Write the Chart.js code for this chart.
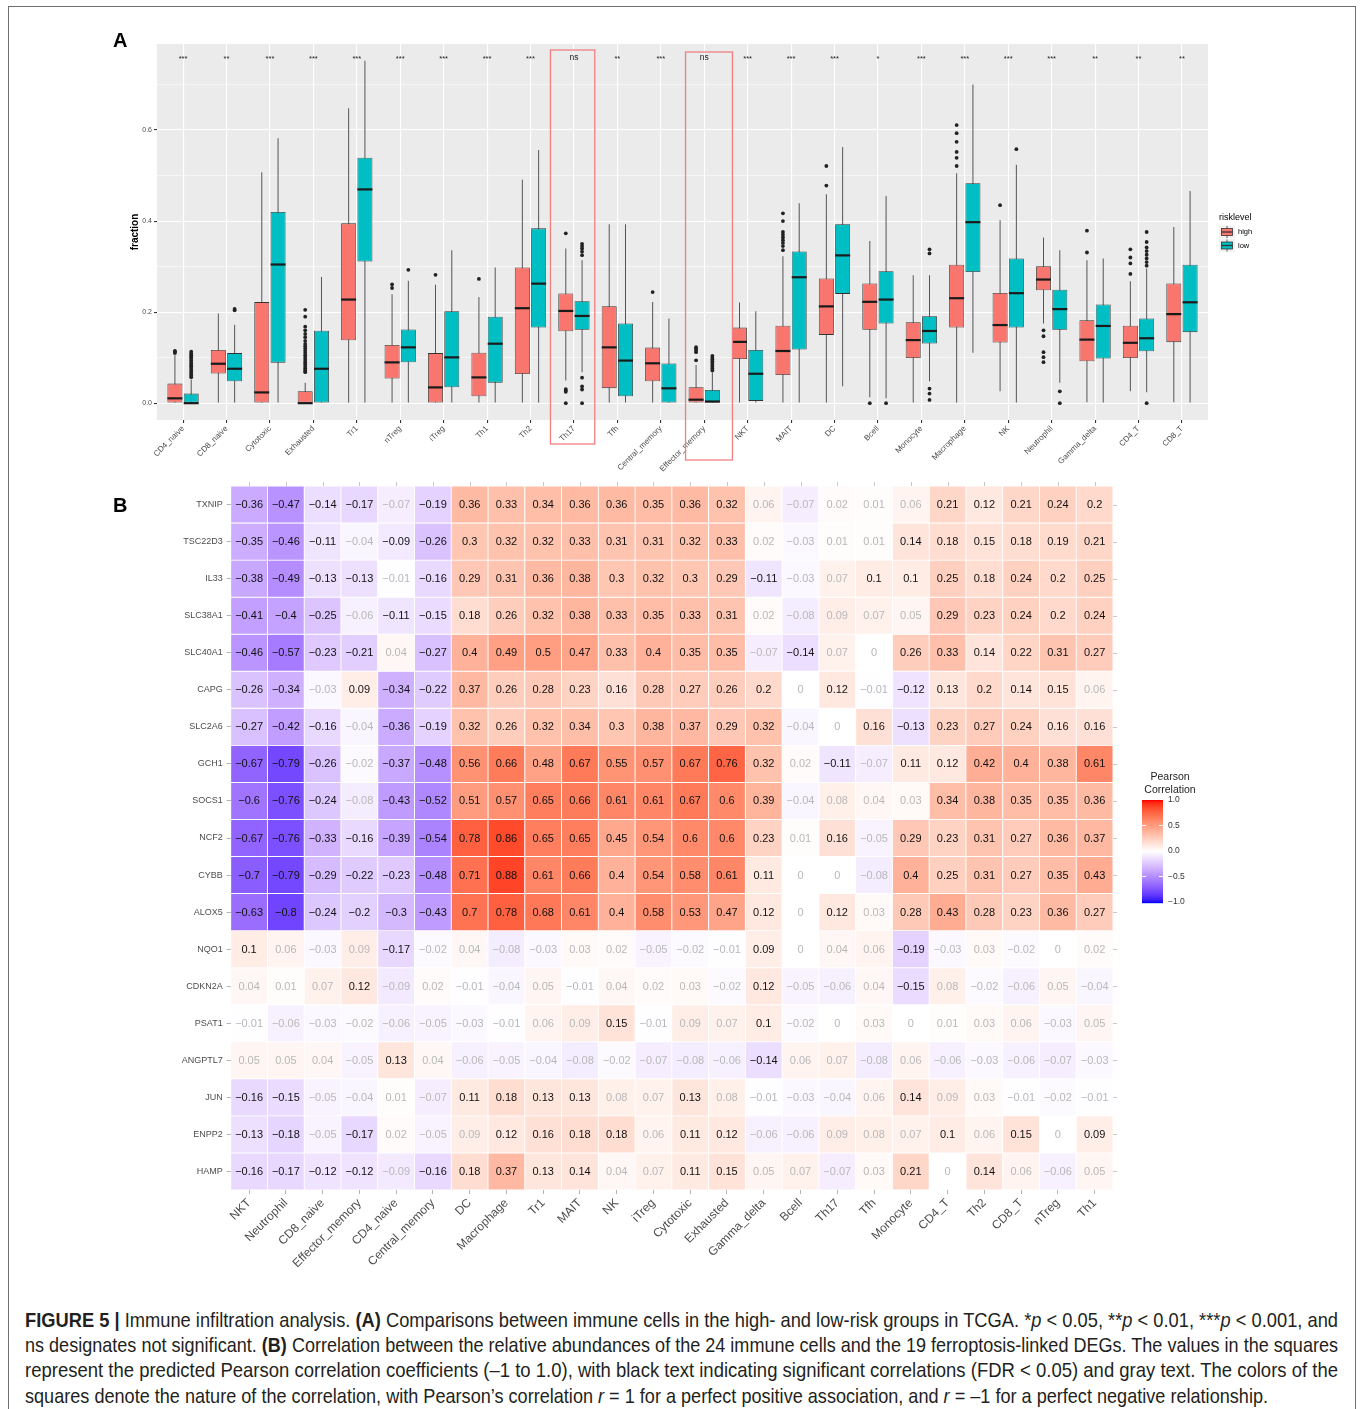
<!DOCTYPE html>
<html><head><meta charset="utf-8">
<script src="https://cdn.jsdelivr.net/npm/chart.js@4.4.1/dist/chart.umd.min.js"></script>
<style>
html,body{margin:0;padding:0;background:#fff}
body{width:1360px;height:1409px;position:relative;overflow:hidden;font-family:"Liberation Sans",Arial,sans-serif}
#frame{position:absolute;left:8px;top:6px;width:1348px;height:1450px;border:1.5px solid #707070;box-sizing:border-box}
canvas{position:absolute;left:0}
#ca{top:0}
#cb{top:470px}
.pl{position:absolute;font-weight:bold;font-size:20px;color:#000;font-family:"Liberation Sans",Arial,sans-serif}
.cl{position:absolute;left:25px;white-space:nowrap;font-family:"Liberation Sans Narrow","Liberation Sans",Arial,sans-serif;font-size:21px;line-height:25px;color:#231f20;transform-origin:0 0}
</style></head><body>
<div id="frame"></div>
<canvas id="ca" width="1360" height="480"></canvas>
<canvas id="cb" width="1360" height="800"></canvas>
<div class="pl" style="left:113px;top:29px">A</div>
<div class="pl" style="left:113px;top:494px">B</div>
<div class="cl" data-w="1313" style="top:1307px"><b>FIGURE 5 |</b> Immune infiltration analysis. <b>(A)</b> Comparisons between immune cells in the high- and low-risk groups in TCGA. *<i>p</i> &lt; 0.05, **<i>p</i> &lt; 0.01, ***<i>p</i> &lt; 0.001, and</div>
<div class="cl" data-w="1313" style="top:1332px">ns designates not significant. <b>(B)</b> Correlation between the relative abundances of the 24 immune cells and the 19 ferroptosis-linked DEGs. The values in the squares</div>
<div class="cl" data-w="1313" style="top:1357px">represent the predicted Pearson correlation coefficients (–1 to 1.0), with black text indicating significant correlations (FDR &lt; 0.05) and gray text. The colors of the</div>
<div class="cl" data-w="1243" style="top:1383px">squares denote the nature of the correlation, with Pearson’s correlation <i>r</i> = 1 for a perfect positive association, and <i>r</i> = –1 for a perfect negative relationship.</div>
<script>
Chart.defaults.font.family = '"Liberation Sans", Arial, sans-serif';
Chart.defaults.animation = false;

/* ---------------- Panel A data ---------------- */
const cells = ['CD4_naive','CD8_naive','Cytotoxic','Exhausted','Tr1','nTreg','iTreg','Th1','Th2','Th17','Tfh','Central_memory','Effector_memory','NKT','MAIT','DC','Bcell','Monocyte','Macrophage','NK','Neutrophil','Gamma_delta','CD4_T','CD8_T'];
const sigLabels = ['***','**','***','***','***','***','***','***','***','ns','**','***','ns','***','***','***','*','***','***','***','***','**','**','**'];
const yTicksA = [0,0.1,0.2,0.3,0.4,0.5,0.6,0.7];

const highLo  = [0,0,0,0,0,0,0,0,0,0.05,0,0,0,0,0,0,0.013,0,0,0.026,0.175,0.002,0.026,0.002];
const highQ1  = [0,0.065,0,0,0.138,0.054,0,0.015,0.064,0.158,0.033,0.048,0,0.097,0.062,0.15,0.161,0.099,0.166,0.133,0.248,0.092,0.099,0.134];
const highMed = [0.013,0.089,0.026,0,0.23,0.092,0.037,0.059,0.211,0.205,0.125,0.09,0.01,0.137,0.117,0.215,0.225,0.141,0.233,0.174,0.274,0.142,0.135,0.198];
const highQ3  = [0.043,0.117,0.222,0.026,0.395,0.128,0.11,0.111,0.298,0.241,0.213,0.122,0.035,0.166,0.17,0.274,0.263,0.178,0.304,0.242,0.301,0.182,0.17,0.263];
const highHi  = [0.105,0.197,0.507,0.045,0.648,0.239,0.26,0.233,0.491,0.34,0.393,0.222,0.084,0.221,0.323,0.459,0.356,0.281,0.505,0.402,0.364,0.314,0.268,0.387];
const highOut = [
  [0.11,0.113,0.115],[],[],
  [0.068,0.072,0.076,0.08,0.085,0.09,0.095,0.1,0.105,0.11,0.115,0.12,0.125,0.13,0.137,0.145,0.152,0.16,0.168,0.19,0.205],
  [],[0.253,0.261],[0.282],[0.273],[],
  [0.373,0.025,0.028,0.031,0],[],[0.244],[0.094,0.112,0.116,0.12,0.123],[],
  [0.336,0.345,0.352,0.358,0.364,0.37,0.376,0.4,0.417],[0.478,0.521],[0],[],
  [0.521,0.539,0.552,0.574,0.593,0.611],[0.435],[0.16,0.147,0.112,0.101,0.09],[0.379,0.331],[0.284,0.307,0.32,0.338],[]
];

const lowLo  = [0,0,0,0,0,0,0,0,0,0.068,0,0,0,0,0,0.037,0.011,0.048,0.111,0,0.045,0,0.024,0];
const lowQ1  = [0,0.048,0.089,0,0.311,0.09,0.035,0.045,0.166,0.161,0.015,0,0,0.005,0.118,0.24,0.175,0.131,0.288,0.166,0.161,0.098,0.114,0.156];
const lowMed = [0,0.078,0.307,0.078,0.472,0.125,0.103,0.133,0.265,0.194,0.096,0.035,0.006,0.067,0.279,0.327,0.23,0.161,0.4,0.244,0.209,0.172,0.145,0.224];
const lowQ3  = [0.021,0.11,0.42,0.159,0.539,0.162,0.202,0.19,0.384,0.224,0.175,0.087,0.029,0.117,0.333,0.393,0.29,0.191,0.483,0.318,0.249,0.217,0.186,0.304];
const lowHi  = [0.052,0.172,0.582,0.277,0.752,0.269,0.336,0.298,0.556,0.314,0.393,0.186,0.068,0.202,0.439,0.563,0.455,0.281,0.7,0.524,0.336,0.318,0.296,0.466];
const lowOut = [
  [0.057,0.061,0.065,0.069,0.073,0.077,0.081,0.085,0.089,0.093,0.097,0.101,0.105,0.109,0.113],
  [0.204,0.207],[],[],[],[0.293],[],[],[],
  [0.325,0.333,0.34,0.345,0.35,0.056,0.037,0.03,0],[],[],
  [0.072,0.076,0.08,0.084,0.088,0.092,0.096,0.1,0.104],[],[],[],[0],
  [0.329,0.338,0.032,0.021,0.007],[],[0.558],[0.026,0],[],
  [0.302,0.31,0.318,0.326,0.334,0.342,0.354,0.376,0],[]
];

const HIGH_COLOR = '#F8766D', LOW_COLOR = '#00BFC4';
const DODGE = 0.1875;   // ggplot dodge: 0.75 slot / 2 groups / 2
const SIG_Y = 0.76;
const highlights = [{cell:'Th17', l:-0.54, r:0.48, top:50, bottom:444},{cell:'Effector_memory', l:-0.43, r:0.65, top:52, bottom:460}];

/* ---------------- Panel B data ---------------- */
const immune = ['NKT','Neutrophil','CD8_naive','Effector_memory','CD4_naive','Central_memory','DC','Macrophage','Tr1','MAIT','NK','iTreg','Cytotoxic','Exhausted','Gamma_delta','Bcell','Th17','Tfh','Monocyte','CD4_T','Th2','CD8_T','nTreg','Th1'];
const genes = ['TXNIP','TSC22D3','IL33','SLC38A1','SLC40A1','CAPG','SLC2A6','GCH1','SOCS1','NCF2','CYBB','ALOX5','NQO1','CDKN2A','PSAT1','ANGPTL7','JUN','ENPP2','HAMP'];
const rTXNIP   = [-0.36,-0.47,-0.14,-0.17,-0.07,-0.19,0.36,0.33,0.34,0.36,0.36,0.35,0.36,0.32,0.06,-0.07,0.02,0.01,0.06,0.21,0.12,0.21,0.24,0.2];
const rTSC22D3 = [-0.35,-0.46,-0.11,-0.04,-0.09,-0.26,0.3,0.32,0.32,0.33,0.31,0.31,0.32,0.33,0.02,-0.03,0.01,0.01,0.14,0.18,0.15,0.18,0.19,0.21];
const rIL33    = [-0.38,-0.49,-0.13,-0.13,-0.01,-0.16,0.29,0.31,0.36,0.38,0.3,0.32,0.3,0.29,-0.11,-0.03,0.07,0.1,0.1,0.25,0.18,0.24,0.2,0.25];
const rSLC38A1 = [-0.41,-0.4,-0.25,-0.06,-0.11,-0.15,0.18,0.26,0.32,0.38,0.33,0.35,0.33,0.31,0.02,-0.08,0.09,0.07,0.05,0.29,0.23,0.24,0.2,0.24];
const rSLC40A1 = [-0.46,-0.57,-0.23,-0.21,0.04,-0.27,0.4,0.49,0.5,0.47,0.33,0.4,0.35,0.35,-0.07,-0.14,0.07,0,0.26,0.33,0.14,0.22,0.31,0.27];
const rCAPG    = [-0.26,-0.34,-0.03,0.09,-0.34,-0.22,0.37,0.26,0.28,0.23,0.16,0.28,0.27,0.26,0.2,0,0.12,-0.01,-0.12,0.13,0.2,0.14,0.15,0.06];
const rSLC2A6  = [-0.27,-0.42,-0.16,-0.04,-0.36,-0.19,0.32,0.26,0.32,0.34,0.3,0.38,0.37,0.29,0.32,-0.04,0,0.16,-0.13,0.23,0.27,0.24,0.16,0.16];
const rGCH1    = [-0.67,-0.79,-0.26,-0.02,-0.37,-0.48,0.56,0.66,0.48,0.67,0.55,0.57,0.67,0.76,0.32,0.02,-0.11,-0.07,0.11,0.12,0.42,0.4,0.38,0.61];
const rSOCS1   = [-0.6,-0.76,-0.24,-0.08,-0.43,-0.52,0.51,0.57,0.65,0.66,0.61,0.61,0.67,0.6,0.39,-0.04,0.08,0.04,0.03,0.34,0.38,0.35,0.35,0.36];
const rNCF2    = [-0.67,-0.76,-0.33,-0.16,-0.39,-0.54,0.78,0.86,0.65,0.65,0.45,0.54,0.6,0.6,0.23,0.01,0.16,-0.05,0.29,0.23,0.31,0.27,0.36,0.37];
const rCYBB    = [-0.7,-0.79,-0.29,-0.22,-0.23,-0.48,0.71,0.88,0.61,0.66,0.4,0.54,0.58,0.61,0.11,0,0,-0.08,0.4,0.25,0.31,0.27,0.35,0.43];
const rALOX5   = [-0.63,-0.8,-0.24,-0.2,-0.3,-0.43,0.7,0.78,0.68,0.61,0.4,0.58,0.53,0.47,0.12,0,0.12,0.03,0.28,0.43,0.28,0.23,0.36,0.27];
const rNQO1    = [0.1,0.06,-0.03,0.09,-0.17,-0.02,0.04,-0.08,-0.03,0.03,0.02,-0.05,-0.02,-0.01,0.09,0,0.04,0.06,-0.19,-0.03,0.03,-0.02,0,0.02];
const rCDKN2A  = [0.04,0.01,0.07,0.12,-0.09,0.02,-0.01,-0.04,0.05,-0.01,0.04,0.02,0.03,-0.02,0.12,-0.05,-0.06,0.04,-0.15,0.08,-0.02,-0.06,0.05,-0.04];
const rPSAT1   = [-0.01,-0.06,-0.03,-0.02,-0.06,-0.05,-0.03,-0.01,0.06,0.09,0.15,-0.01,0.09,0.07,0.1,-0.02,0,0.03,0,0.01,0.03,0.06,-0.03,0.05];
const rANGPTL7 = [0.05,0.05,0.04,-0.05,0.13,0.04,-0.06,-0.05,-0.04,-0.08,-0.02,-0.07,-0.08,-0.06,-0.14,0.06,0.07,-0.08,0.06,-0.06,-0.03,-0.06,-0.07,-0.03];
const rJUN     = [-0.16,-0.15,-0.05,-0.04,0.01,-0.07,0.11,0.18,0.13,0.13,0.08,0.07,0.13,0.08,-0.01,-0.03,-0.04,0.06,0.14,0.09,0.03,-0.01,-0.02,-0.01];
const rENPP2   = [-0.13,-0.18,-0.05,-0.17,0.02,-0.05,0.09,0.12,0.16,0.18,0.18,0.06,0.11,0.12,-0.06,-0.06,0.09,0.08,0.07,0.1,0.06,0.15,0,0.09];
const rHAMP    = [-0.16,-0.17,-0.12,-0.12,-0.09,-0.16,0.18,0.37,0.13,0.14,0.04,0.07,0.11,0.15,0.05,0.07,-0.07,0.03,0.21,0,0.14,0.06,-0.06,0.05];
const corrRows = [rTXNIP,rTSC22D3,rIL33,rSLC38A1,rSLC40A1,rCAPG,rSLC2A6,rGCH1,rSOCS1,rNCF2,rCYBB,rALOX5,rNQO1,rCDKN2A,rPSAT1,rANGPTL7,rJUN,rENPP2,rHAMP];
// 1 = significant (black text), 0 = not significant (gray text)
const sigRows = [
  '111101111111110000011111','111011111111110000111111','111101111111111001111111','111011111111110000011111',
  '111101111111110100111111','110111111111111010111110','111011111111111001111111','111011111111111010111111',
  '111011111111111000011111','111111111111111010111111','111111111111111000111111','111111111111111010111111',
  '100010000000001000100000','000100000000001000100000','000000000010001000000000','000010000000001000000000',
  '110000111100100000100000','110100011110110000010101','111101111100110000101000'
];
const colorbarTicks = [1,0.5,0,-0.5,-1];

/* ---------------- colour (ggplot gradient2 in Lab) ---------------- */
function s2l(c){c/=255;return c<=0.04045?c/12.92:Math.pow((c+0.055)/1.055,2.4);}
function l2s(c){c=c<=0.0031308?12.92*c:1.055*Math.pow(c,1/2.4)-0.055;return Math.round(Math.max(0,Math.min(1,c))*255);}
const Xn=0.95047,Yn=1,Zn=1.08883;
function ff(t){return t>0.008856?Math.cbrt(t):7.787*t+16/116;}
function fi(t){return t>0.206893?t*t*t:(t-16/116)/7.787;}
function rgb2lab(r,g,b){const R=s2l(r),G=s2l(g),B=s2l(b);
  const X=0.4124564*R+0.3575761*G+0.1804375*B,Y=0.2126729*R+0.7151522*G+0.0721750*B,Z=0.0193339*R+0.1191920*G+0.9503041*B;
  const fx=ff(X/Xn),fy=ff(Y/Yn),fz=ff(Z/Zn);return [116*fy-16,500*(fx-fy),200*(fy-fz)];}
function lab2rgb(L,a,b){const fy=(L+16)/116,fx=fy+a/500,fz=fy-b/200;const X=Xn*fi(fx),Y=Yn*fi(fy),Z=Zn*fi(fz);
  return [l2s(3.2404542*X-1.5371385*Y-0.4985314*Z),l2s(-0.9692660*X+1.8760108*Y+0.0415560*Z),l2s(0.0556434*X-0.2040259*Y+1.0572252*Z)];}
const LAB_W=rgb2lab(255,255,255),LAB_B=rgb2lab(0,0,255),LAB_R=rgb2lab(255,0,0);
function corrColor(v){const t=Math.min(1,Math.abs(v));const e=v<0?LAB_B:LAB_R;
  const c=lab2rgb(LAB_W[0]+(e[0]-LAB_W[0])*t,LAB_W[1]+(e[1]-LAB_W[1])*t,LAB_W[2]+(e[2]-LAB_W[2])*t);
  return 'rgb('+c[0]+','+c[1]+','+c[2]+')';}
function fmt(v){return v===0?'0':(v<0?'\u2212':'')+String(Math.abs(v));}

/* ---------------- Panel A chart ---------------- */
const pos = cells.map((_,i)=>i+1);
function boxData(a,b){return pos.map((x,i)=>({x:x,y:[a[i],b[i]]}));}
function outData(out,sign){const pts=[];out.forEach((arr,i)=>arr.forEach(v=>pts.push({x:i+1+sign*DODGE,y:v})));return pts;}
const barCommon = {categoryPercentage:0.75, barPercentage:0.92};

const panelA = {
  id:'panelA',
  beforeDraw(c){const {ctx,chartArea:a}=c;ctx.save();ctx.fillStyle='#EBEBEB';ctx.fillRect(a.left,a.top,a.right-a.left,a.bottom-a.top);ctx.restore();},
  afterDraw(c){
    const {ctx,chartArea:a,scales:{x,y}}=c;
    ctx.save();
    ctx.textAlign='center';ctx.textBaseline='middle';ctx.fillStyle='#222';
    sigLabels.forEach((s,i)=>{
      ctx.font=(s==='ns'?'8.5px':'7.5px')+' "Liberation Sans", Arial';
      ctx.fillText(s,x.getPixelForValue(i+1),y.getPixelForValue(SIG_Y)+(s==='ns'?0:2));
    });
    ctx.strokeStyle='#F08080';ctx.lineWidth=1.3;
    highlights.forEach(h=>{const k=cells.indexOf(h.cell)+1;
      const l=x.getPixelForValue(k+h.l),r=x.getPixelForValue(k+h.r);
      ctx.strokeRect(l,h.top,r-l,h.bottom-h.top);});
    // legend
    ctx.textAlign='left';ctx.fillStyle='#000';ctx.font='9px "Liberation Sans", Arial';
    ctx.fillText('risklevel',1219,218);
    [['high',HIGH_COLOR,232],['low',LOW_COLOR,245.5]].forEach(([lab,col,cy])=>{
      ctx.fillStyle='#F2F2F2';ctx.fillRect(1219,cy-6.5,16,13);
      ctx.strokeStyle='#333';ctx.lineWidth=0.8;
      ctx.beginPath();ctx.moveTo(1227,cy-6);ctx.lineTo(1227,cy-3.5);ctx.moveTo(1227,cy+3.5);ctx.lineTo(1227,cy+6);ctx.stroke();
      ctx.fillStyle=col;ctx.fillRect(1221.5,cy-3.5,11,7);ctx.strokeRect(1221.5,cy-3.5,11,7);
      ctx.lineWidth=1.3;ctx.beginPath();ctx.moveTo(1221.5,cy);ctx.lineTo(1232.5,cy);ctx.stroke();
      ctx.fillStyle='#000';ctx.font='7.5px "Liberation Sans", Arial';ctx.fillText(lab,1238,cy);
    });
    ctx.restore();
  }
};

new Chart(document.getElementById('ca'),{
  type:'bar',
  data:{datasets:[
    Object.assign({type:'scatter',label:'high outliers',order:0,data:outData(highOut,-1),pointRadius:1.9,pointBackgroundColor:'#222',pointBorderWidth:0}),
    Object.assign({type:'scatter',label:'low outliers',order:0,data:outData(lowOut,1),pointRadius:1.9,pointBackgroundColor:'#222',pointBorderWidth:0}),
    Object.assign({label:'high median',stack:'high',order:1,data:boxData(highMed,highMed),backgroundColor:'#1a1a1a',borderWidth:0,minBarLength:2.2},barCommon),
    Object.assign({label:'low median',stack:'low',order:1,data:boxData(lowMed,lowMed),backgroundColor:'#1a1a1a',borderWidth:0,minBarLength:2.2},barCommon),
    Object.assign({label:'high',stack:'high',order:2,data:boxData(highQ1,highQ3),backgroundColor:HIGH_COLOR,borderColor:'#333',borderWidth:0.8,borderSkipped:false},barCommon),
    Object.assign({label:'low',stack:'low',order:2,data:boxData(lowQ1,lowQ3),backgroundColor:LOW_COLOR,borderColor:'#333',borderWidth:0.8,borderSkipped:false},barCommon),
    Object.assign({label:'high whisker',stack:'high',order:3,data:boxData(highLo,highHi),backgroundColor:'#555',borderWidth:0,maxBarThickness:1},barCommon),
    Object.assign({label:'low whisker',stack:'low',order:3,data:boxData(lowLo,lowHi),backgroundColor:'#555',borderWidth:0,maxBarThickness:1},barCommon)
  ]},
  options:{
    responsive:false,animation:false,
    layout:{padding:{left:125,right:152,top:44,bottom:0}},
    plugins:{legend:{display:false},tooltip:{enabled:false}},
    scales:{
      x:{type:'linear',min:0.4,max:24.6,offset:false,
        afterBuildTicks:s=>{s.ticks=pos.map(v=>({value:v}));},
        afterFit:s=>{s.height=60;},
        ticks:{autoSkip:false,minRotation:45,maxRotation:45,font:{size:8},color:'#4d4d4d',padding:1,callback:v=>cells[Math.round(v)-1]},
        grid:{color:'#ffffff',lineWidth:1.1,tickColor:'#333',tickLength:3,offset:false},
        border:{display:false}},
      y:{type:'linear',min:-0.037,max:0.789,stacked:false,
        afterBuildTicks:s=>{s.ticks=yTicksA.map(v=>({value:v}));},
        afterFit:s=>{s.width=32;},
        ticks:{font:{size:7},color:'#4d4d4d',padding:2,callback:v=>(Math.round(v*10)%2===0?v.toFixed(1):'')},
        grid:{color:'#ffffff',lineWidth:c=>(c.tick&&Math.round(c.tick.value*10)%2===0?1.1:0.55),
              tickColor:c=>(c.tick&&Math.round(c.tick.value*10)%2===0?'#333':'rgba(0,0,0,0)'),tickLength:3},
        title:{display:true,text:'fraction',font:{size:10,weight:'bold'},color:'#000',padding:4},
        border:{display:false}}
    }
  },
  plugins:[panelA]
});

/* ---------------- Panel B chart ---------------- */
const panelB = {
  id:'panelB',
  afterDatasetsDraw(c){
    const ctx=c.ctx;ctx.save();
    ctx.font='11px "Liberation Sans", Arial';ctx.textAlign='center';ctx.textBaseline='middle';
    c.data.datasets.forEach((ds,r)=>{
      c.getDatasetMeta(r).data.forEach((el,j)=>{
        ctx.fillStyle=sigRows[r][j]==='1'?'#111':'#b8b8b8';
        ctx.fillText(fmt(corrRows[r][j]),el.x,(el.y+el.base)/2+0.5);
      });
    });
    ctx.restore();
  },
  afterDraw(c){
    const {ctx,chartArea:a,scales:{x,y}}=c;ctx.save();
    // faint ticks on top and right sides
    ctx.strokeStyle='#c8c8c8';ctx.lineWidth=1;ctx.beginPath();
    immune.forEach((_,j)=>{const px=Math.round(x.getPixelForValue(j))+0.5;ctx.moveTo(px,a.top-4);ctx.lineTo(px,a.top);});
    genes.forEach((_,i)=>{const py=Math.round(y.getPixelForValue(i+0.5))+0.5;ctx.moveTo(a.right,py);ctx.lineTo(a.right+4,py);});
    ctx.stroke();
    // colour bar legend
    const bx=1142,bw=21,top=330,h=103;
    for(let p=0;p<h;p++){const v=1-2*p/(h-1);ctx.fillStyle=corrColor(v);ctx.fillRect(bx,top+p,bw,1.2);}
    ctx.strokeStyle='#fff';ctx.lineWidth=1;ctx.beginPath();
    colorbarTicks.forEach(v=>{const py=top+(1-v)/2*(h-1);if(v<1&&v>-1){ctx.moveTo(bx,py);ctx.lineTo(bx+4,py);ctx.moveTo(bx+bw-4,py);ctx.lineTo(bx+bw,py);}});
    ctx.stroke();
    ctx.fillStyle='#333';ctx.font='8.5px "Liberation Sans", Arial';ctx.textAlign='left';ctx.textBaseline='middle';
    colorbarTicks.forEach(v=>{const py=top+(1-v)/2*(h-1);ctx.fillText((v<0?'\u2212':'')+Math.abs(v).toFixed(1),bx+26,py);});
    ctx.fillStyle='#222';ctx.font='10.5px "Liberation Sans", Arial';ctx.textAlign='center';
    ctx.fillText('Pearson',1170,307);ctx.fillText('Correlation',1170,320);
    ctx.restore();
  }
};

new Chart(document.getElementById('cb'),{
  type:'bar',
  data:{labels:immune,datasets:genes.map((g,r)=>({label:g,data:immune.map(()=>1),backgroundColor:corrRows[r].map(corrColor),
    borderColor:'#ffffff',borderWidth:0.8,borderSkipped:false,categoryPercentage:1,barPercentage:1}))},
  options:{
    responsive:false,animation:false,
    layout:{padding:{left:0,right:247,top:16,bottom:0}},
    plugins:{legend:{display:false},tooltip:{enabled:false}},
    scales:{
      x:{type:'category',stacked:true,offset:true,afterFit:s=>{s.height=80;},
        ticks:{autoSkip:false,minRotation:45,maxRotation:45,font:{size:12},color:'#4d4d4d',padding:2},
        grid:{drawOnChartArea:false,offset:false,tickLength:4,tickColor:'#b3b3b3'},border:{display:false}},
      y:{type:'linear',stacked:true,reverse:true,min:0,max:19,
        afterBuildTicks:s=>{s.ticks=genes.map((_,i)=>({value:i+0.5}));},
        afterFit:s=>{s.width=230.7;},
        ticks:{font:{size:9},color:'#4d4d4d',padding:4,callback:v=>genes[Math.floor(v)]},
        grid:{drawOnChartArea:false,tickLength:4,tickColor:'#b3b3b3'},border:{display:false}}
    }
  },
  plugins:[panelB]
});

/* caption line fitting */
document.querySelectorAll('.cl').forEach(el=>{
  const w=el.getBoundingClientRect().width;const tw=+el.dataset.w;
  if(w>0) el.style.transform='scaleX('+(tw/w)+')';
});
</script>
</body></html>
